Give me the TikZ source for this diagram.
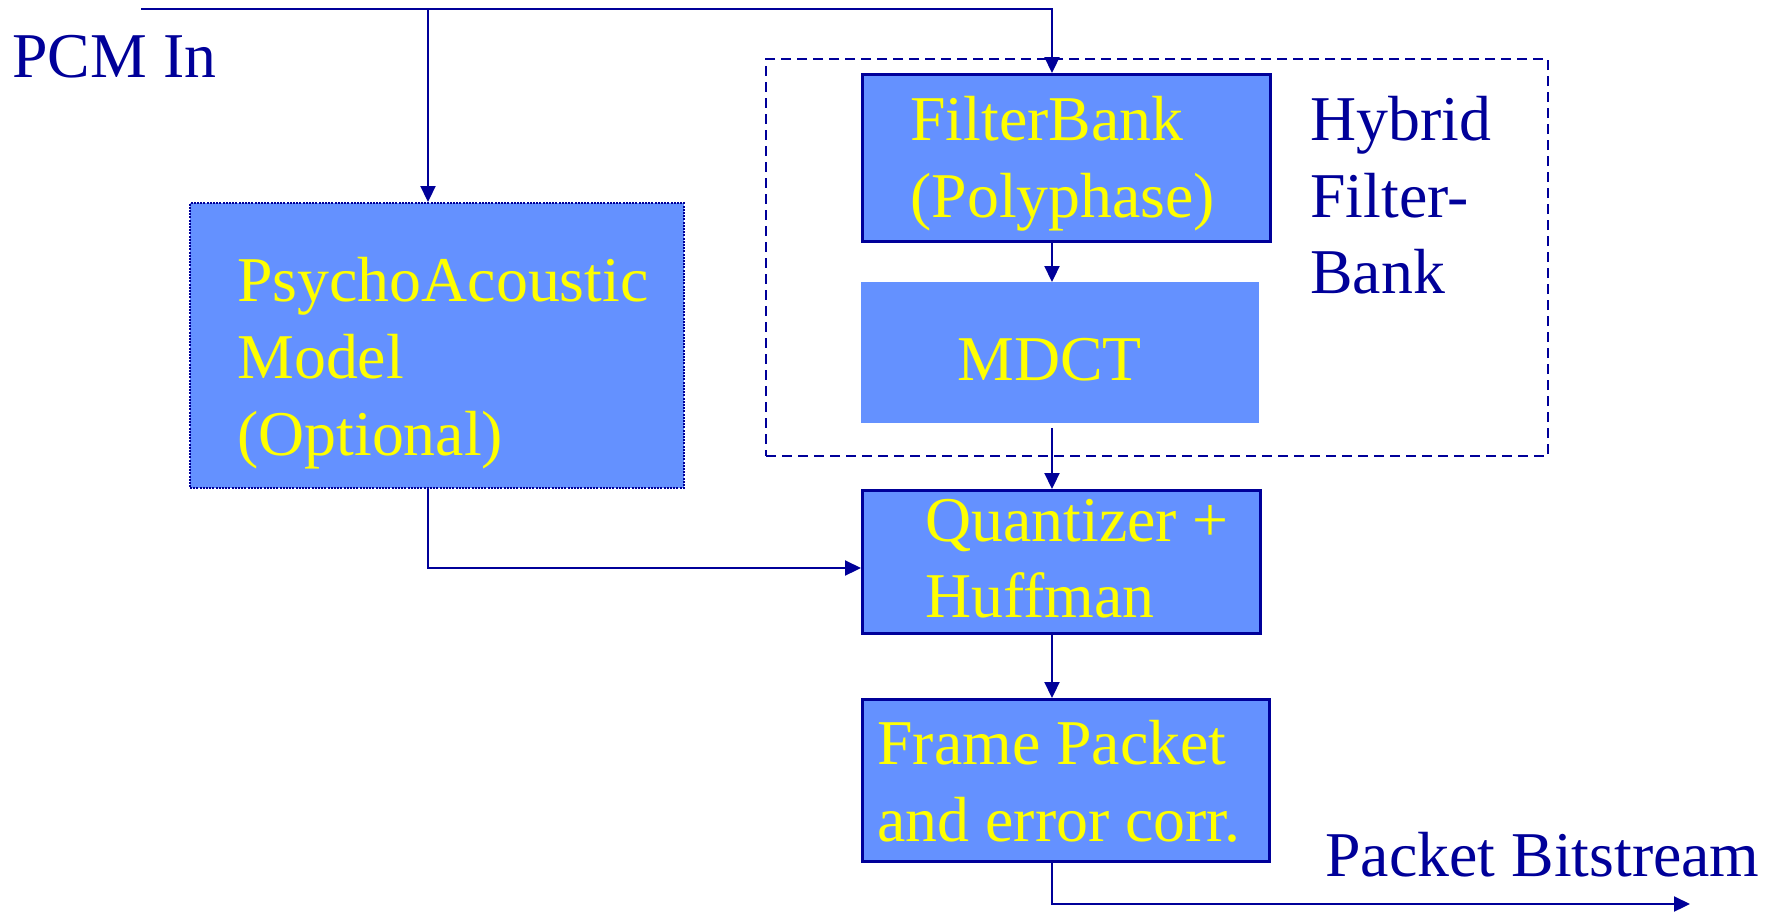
\documentclass[tikz,border=0pt]{standalone}
\usepackage{fontspec}
\setmainfont{Liberation Serif}
\usetikzlibrary{arrows.meta}
\definecolor{navy}{RGB}{0,0,153}
\definecolor{boxblue}{RGB}{100,145,255}
\definecolor{txtyellow}{RGB}{255,255,0}
\tikzset{
  blockbox/.style={fill=boxblue, minimum width=#1, inner sep=0pt, anchor=north west},
  framed/.style={draw=navy, line width=1.5pt},
  ytext/.style={text=txtyellow, anchor=base west, inner sep=0pt, font=\fontsize{31.9}{38.5}\selectfont},
  btext/.style={text=navy, anchor=base west, inner sep=0pt, font=\fontsize{31.9}{38.5}\selectfont},
  conn/.style={draw=navy, line width=1.1pt},
  flow/.style={conn, -{Triangle[length=8pt,width=7.5pt]}},
}
\begin{document}
\begin{tikzpicture}[x=0.5pt, y=-0.5pt]
\useasboundingbox (0,0) rectangle (1774,912);

% hybrid filter-bank group
\node[draw=navy, line width=1.2pt, dash pattern=on 5pt off 3pt, minimum width=391pt, minimum height=198.5pt, inner sep=0pt, anchor=north west] (hybrid) at (765,58) {};

% processing blocks
\node[blockbox=247pt, minimum height=142.5pt, draw=navy, line width=1pt, dash pattern=on 1pt off 0.6pt] (psy) at (189,202) {};
\node[blockbox=204pt, minimum height=83.5pt, framed] (fb) at (861,73) {};
\node[blockbox=199pt, minimum height=70.5pt] (mdct) at (861,282) {};
\node[blockbox=199pt, minimum height=71.5pt, framed] (quant) at (861,489) {};
\node[blockbox=203.5pt, minimum height=81pt, framed] (fp) at (861,698) {};

% block texts
\node[ytext] (psy1) at (237,301) {PsychoAcoustic};
\node[ytext] (psy2) at (237,378) {Model};
\node[ytext] (psy3) at (237,455) {(Optional)};
\node[ytext] (fb1) at (910,140) {FilterBank};
\node[ytext] (fb2) at (910,217) {(Polyphase)};
\node[ytext] (mdct1) at (957,380) {MDCT};
\node[ytext] (q1) at (925,541) {Quantizer +};
\node[ytext] (q2) at (925,617) {Huffman};
\node[ytext] (fp1) at (877,764) {Frame Packet};
\node[ytext] (fp2) at (877,841) {and error corr.};

% outer labels
\node[btext] (pcm) at (12,77) {PCM In};
\node[btext] (hy1) at (1310,140) {Hybrid};
\node[btext] (hy2) at (1310,217) {Filter-};
\node[btext] (hy3) at (1310,293) {Bank};
\node[btext] (pbs) at (1325,876) {Packet Bitstream};

% connector routing points
\coordinate (inL) at (141,9);
\coordinate (spine) at (1052,9);
\coordinate (tap) at (428,9);
\coordinate (merge) at (861,568);
\coordinate (outEnd) at (1690,904);

% connectors
\draw[flow] (inL) -- (spine) -- (fb.north -| spine);
\draw[flow] (tap) -- (psy.north -| tap);
\draw[flow] (fb.south -| spine) -- (mdct.north -| spine);
\draw[flow] ([yshift=-2pt]mdct.south -| spine) -- (quant.north -| spine);
\draw[flow] (psy.south -| tap) |- (merge);
\draw[flow] (quant.south -| spine) -- (fp.north -| spine);
\draw[flow] (fp.south -| spine) |- (outEnd);
\end{tikzpicture}
\end{document}
